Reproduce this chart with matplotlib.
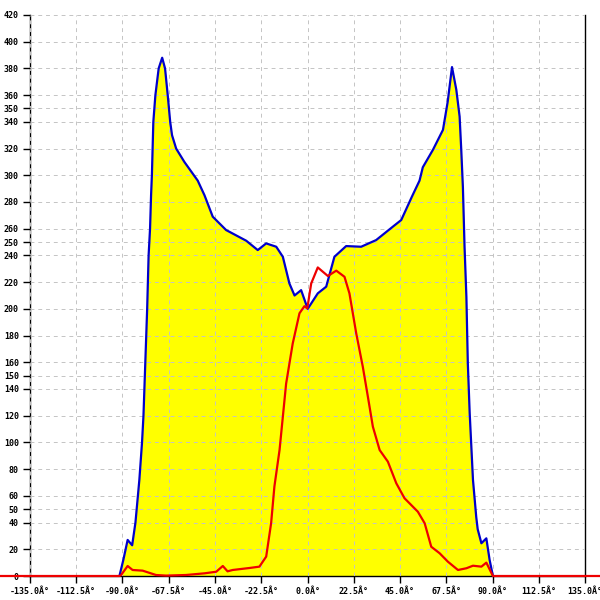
import matplotlib
matplotlib.use("Agg")
import matplotlib.pyplot as plt

# blue envelope (filled yellow underneath)
blue_deg = [-91.5, -89.6, -87.5, -85.3, -83.7, -81.8, -80.5, -79.8, -78.9, -78.0,
            -77.3, -76.6, -76.1, -75.7, -75.0, -74.0, -72.4, -70.7, -69.3, -68.0,
            -66.8, -65.9, -63.9, -59.9, -53.4, -50.1, -46.1, -39.6, -34.7, -29.8,
            -24.2, -20.1, -15.2, -12.0, -8.8, -6.3, -3.1, 0.1, 5.0, 9.1,
            13.1, 18.8, 26.1, 33.4, 41.5, 45.6, 50.8, 54.5, 56.1, 61.0,
            65.9, 68.2, 70.3, 72.4, 74.0, 74.8, 75.6, 76.4, 77.3, 78.0,
            78.9, 79.7, 80.5, 82.1, 82.8, 84.6, 87.0, 88.6, 90.2]
blue_val = [0, 12, 27, 23, 40, 72, 100, 120, 160, 200,
            240, 260, 285, 300, 340, 360, 380, 388, 380, 360,
            340, 330, 320, 310, 296, 285, 269, 259, 255, 251,
            244, 249, 246.5, 239, 219, 210, 214, 200, 211.6, 216.6,
            239, 247, 246.5, 251.5, 261.5, 266.5, 284, 296, 306, 319,
            334, 355, 381, 364, 344, 319, 291, 246.5, 209, 159,
            122, 97, 72, 44, 35, 24.5, 28.2, 12, 0]

# red curve
red_deg = [-150, -91.5, -90.7, -87.5, -85.1, -80.2, -73.7, -68.8, -59.1, -50.1,
           -44.4, -41.2, -38.9, -36.4, -28.2, -23.4, -20.1, -17.7, -16.1, -13.6,
           -10.4, -7.2, -3.9, -1.5, -0.1, 1.8, 5.0, 9.9, 14.0, 18.0,
           20.4, 23.7, 26.9, 29.4, 31.8, 35.1, 39.1, 43.2, 47.2, 53.7,
           57.0, 60.2, 64.3, 68.3, 73.2, 77.3, 80.5, 84.6, 87.0, 88.6,
           90.2, 150]
red_val = [0, 0, 0.7, 7.5, 4.5, 4, 0.75, 0.3, 0.75, 2,
           3.2, 7.5, 3.5, 4.5, 6, 7, 14.5, 39.5, 67, 94.3,
           144, 174, 196.7, 202, 200.4, 219, 231, 224.6, 228.6, 224,
           211.6, 181.7, 156.7, 134, 111.8, 94.3, 85.6, 69.4, 58.2, 48.1,
           39.5, 21.9, 17, 10.7, 4.5, 5.8, 7.7, 7, 10, 5,
           0, 0]

x_ticks = [-135 + 22.5 * i for i in range(13)]
x_labels = ["%.1fÂ°" % t for t in x_ticks]
y_ticks = [0, 20, 40, 50, 60, 80, 100, 120, 140, 150, 160, 180, 200, 220, 240,
           250, 260, 280, 300, 320, 340, 350, 360, 380, 400, 420]

fig = plt.figure(figsize=(6, 6), dpi=100)
ax = fig.add_axes([0.05, 0.04, 0.925, 0.935])

ax.fill_between(blue_deg, blue_val, 0, color="#ffff00", linewidth=0, zorder=1)
ax.plot(blue_deg, blue_val, color="#0000cc", linewidth=1.6, zorder=3)
ax.plot(red_deg, red_val, color="#ee0000", linewidth=1.6, zorder=4, clip_on=False)

ax.set_xlim(-135, 135)
ax.set_ylim(0, 420)
ax.set_xticks(x_ticks)
ax.set_xticklabels(x_labels)
ax.set_yticks(y_ticks)
ax.set_yticklabels([str(v) for v in y_ticks])

# light dashed grid drawn over the yellow fill
ax.grid(True, color="#c4c4c4", linestyle=(0, (4, 4)), linewidth=0.7, zorder=2)
ax.set_axisbelow(False)

for lab in ax.get_xticklabels() + ax.get_yticklabels():
    lab.set_family("DejaVu Sans Mono")
    lab.set_fontsize(6)
    lab.set_fontweight("bold")

ax.tick_params(axis="both", direction="out", length=5, width=1, color="black", pad=3)
ax.spines["top"].set_visible(False)
for s in ("left", "right", "bottom"):
    ax.spines[s].set_color("black")
    ax.spines[s].set_linewidth(1)

fig.savefig("out.png", dpi=100)
plt.close(fig)
